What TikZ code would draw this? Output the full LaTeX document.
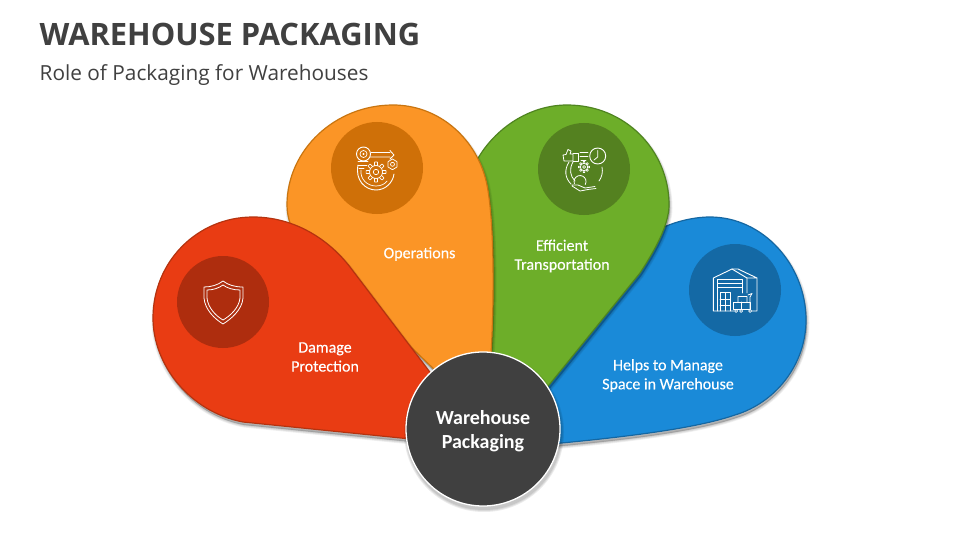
\documentclass[tikz,border=0pt]{standalone}
\usepackage{fontspec}
\setmainfont{Open Sans}
\newfontfamily\labfont[FakeBold=0.25]{Carlito}
\newfontfamily\hubfont{Carlito}
\definecolor{txtdark}{HTML}{404040}
\definecolor{redfill}{HTML}{E93C13}
\definecolor{rededge}{HTML}{B5330F}
\definecolor{reddisc}{HTML}{AE2D0E}
\definecolor{orafill}{HTML}{FB9526}
\definecolor{oraedge}{HTML}{C97510}
\definecolor{oradisc}{HTML}{CF7008}
\definecolor{grnfill}{HTML}{6DAE29}
\definecolor{grnedge}{HTML}{4F8420}
\definecolor{grndisc}{HTML}{548120}
\definecolor{blufill}{HTML}{1A8AD8}
\definecolor{bluedge}{HTML}{1567A2}
\definecolor{bludisc}{HTML}{1469A5}
\tikzset{
  lab/.style={font=\labfont\fontsize{16}{19}\selectfont,text=white,align=center,inner sep=0pt},
  ico/.style={draw=white,line width=0.9pt,line join=round,line cap=round},
  disc/.style={circle,minimum size=92pt,inner sep=0pt}
}
\newcommand{\softshadow}[1]{%
  \foreach \w in {5,3.5,2,0.5}{%
    \fill[black,opacity=0.06,draw=black,line width=\w pt,line join=round,shift={(1,3)}] #1;
  }%
}
\newcommand{\petal}[3]{%
  \softshadow{#1}
  \filldraw[fill=#2,draw=#3,line width=1.2pt,line join=round] #1;
}
\newcommand{\cog}[6]{% x y rout rin rhole teeth
  \foreach \i in {1,...,#6}{%
    \pgfmathsetmacro{\aa}{\i*360/#6}
    \draw[ico,line width=0.7pt,shift={(#1,#2)}] (\aa-14:#4) -- (\aa-8:#3) -- (\aa+8:#3) -- (\aa+14:#4);
  }
  \draw[ico,line width=0.7pt] (#1,#2) circle[radius=#4 pt];
  \draw[ico,line width=0.7pt] (#1,#2) circle[radius=#5 pt];
}
\begin{document}
\begin{tikzpicture}[x=1pt,y=-1pt]
\useasboundingbox (0,0) rectangle (960,540);
\fill[white] (0,0) rectangle (960,540);

\node[anchor=west,inner sep=0pt,text=txtdark,font=\bfseries\fontsize{30.85}{36}\selectfont] (title) at (39.5,34.5) {WAREHOUSE PACKAGING};
\node[anchor=west,inner sep=0pt,text=txtdark,font=\fontsize{20.8}{24}\selectfont] (subtitle) at (39.5,75) {Role of Packaging for Warehouses};

% petals, back to front
\petal{(650,235) .. controls (665,224) and (690,217) .. (710,217) .. controls (763,217) and (806,265) .. (806,320) .. controls (806,365) and (775,403) .. (735,415) .. controls (700,427) and (640,436) .. (540,445) -- (530,400) -- cycle}{blufill}{bluedge}
\petal{(480,375) -- (477,160) .. controls (495,128) and (530,105) .. (567,105) .. controls (625,105) and (669,150) .. (669,205) .. controls (669,225) and (655,250) .. (640,273) -- (545,390) -- cycle}{grnfill}{grnedge}
\petal{(287,205) .. controls (287,150) and (335,105) .. (393,105) .. controls (440,105) and (478,140) .. (487,185) .. controls (494,220) and (495,300) .. (490,370) -- (440,375) -- (300,240) .. controls (292,232) and (287,218) .. (287,205) -- cycle}{orafill}{oraedge}
\petal{(445,392) -- (350,267) .. controls (325,235) and (290,217) .. (253,217) .. controls (197,217) and (153,262) .. (153,318) .. controls (153,365) and (190,412) .. (243,422) -- (450,443) -- cycle}{redfill}{rededge}

% icon discs
\node[disc,fill=reddisc] (d1) at (223,302) {};
\node[disc,fill=oradisc] (d2) at (377,168) {};
\node[disc,fill=grndisc] (d3) at (584,169) {};
\node[disc,fill=bludisc] (d4) at (735,290) {};

% shield
\draw[ico,line width=0.8pt] (223,281) .. controls (218,285) and (211,287) .. (204,287) -- (204,298) .. controls (205,310) and (215,319) .. (223,324) .. controls (231,319) and (242,310) .. (243,298) -- (243,287) .. controls (235,287) and (228,285) .. (223,281) -- cycle;
\draw[ico,line width=0.8pt] (223,285) .. controls (219,288) and (213,290) .. (207,290) -- (207,298) .. controls (208,308) and (216,316) .. (223,320) .. controls (230,316) and (239,308) .. (240,298) -- (240,290) .. controls (233,290) and (227,288) .. (223,285) -- cycle;

% operations icon
\draw[ico] (363.5,154) circle[radius=7pt];
\draw[ico,line width=0.7pt] (363.5,154) circle[radius=3.5pt];
\fill[white] (363.5,154) circle[radius=1.2pt];
\draw[ico,line width=0.8pt] (371,152.5) -- (390,152.5) (370,157) -- (390,157) (390,150.5) -- (394,155) -- (390,159);
\draw[ico,line width=0.8pt] (358,161) -- (368,161) (358,165) -- (367,165) (359,168) -- (364,168);
\cog{376}{172}{10}{6.5}{2.7}{8}
\draw[ico,line width=0.7pt] (392.5,159) -- (397,161.7) -- (397,167) -- (392.5,169.7) -- (388,167) -- (388,161.7) -- cycle;
\draw[ico,line width=0.7pt] (392.5,164.3) circle[radius=2pt];
\draw[ico] (358,165) .. controls (355,180) and (365,190) .. (376,190) .. controls (386,190) and (393,182) .. (394,174);
\draw[ico,line width=0.7pt] (361,170) .. controls (360,179) and (367,186) .. (376,186) .. controls (381,186) and (385,184) .. (387,181);

% transportation icon
\draw[ico] (597.7,156) circle[radius=8pt];
\draw[ico,line width=0.8pt] (597.7,150.5) -- (597.7,157) -- (594,160);
\draw[ico,line width=0.8pt] (563,155) -- (566,154.5) -- (568,149.5) -- (571,151) -- (570,154) -- (573,154) -- (573,161) -- (564,161) -- cycle;
\draw[ico,line width=0.8pt] (573,153) -- (578,153) -- (578,161) -- (573,161);
\draw[ico,line width=0.8pt] (580,152.5) -- (588,152.5) (580,156) -- (588,156) (581,160.5) -- (586,160.5);
\cog{584}{167}{5.5}{3.7}{1.5}{8}
\draw[ico,line width=0.8pt] (569,162) .. controls (564,170) and (565,178) .. (571,184);
\draw[ico,line width=0.8pt] (573,162) .. controls (569,169) and (570,176) .. (575,181);
\draw[ico,line width=0.8pt] (602,167) .. controls (603,172) and (602,177) .. (599,181);
\draw[ico,line width=0.8pt] (574.4,183.6) arc[start angle=200,end angle=-30,radius=6pt];
\draw[ico,line width=0.8pt] (572,185) -- (578,185) -- (585,188) -- (595,186.5) (572,186) -- (580,191) -- (588,189.5) -- (596,188.5);

% warehouse icon
\draw[ico,line width=0.9pt] (734,311) -- (713.3,311) -- (713.3,278) -- (732,269) -- (747,278) -- (747,293);
\draw[ico,line width=0.9pt] (732,269) -- (738,269) -- (757,278) -- (757,311) -- (752,311) (747,278) -- (757,278);
\draw[ico,line width=0.9pt] (717.5,311) -- (717.5,279) -- (742.5,279) -- (742.5,293) (717.5,283) -- (742.5,283) (717.5,287.5) -- (742.5,287.5);
\draw[ico,line width=0.8pt] (720,311) -- (720,292.5) -- (730,292.5) -- (730,311) (725,292.5) -- (725,311) (720,299) -- (730,299) (720,305) -- (730,305);
\draw[ico,line width=0.8pt] (733,302) -- (750,302) -- (750,309) -- (733,309) -- cycle (741,302) -- (741,309);
\draw[ico,line width=0.8pt] (738,302) -- (738,296.5) -- (747,296.5) -- (747,302) (750,309) -- (750,297) -- (752,293.5) -- (748,295);
\draw[ico,line width=0.7pt] (736,311) circle[radius=1.5pt] (741,311) circle[radius=1.5pt] (750,311) circle[radius=1.5pt];

% labels
\node[lab] (l1) at (325,357) {Damage\\Protection};
\node[lab] (l2) at (419.5,254) {Operations};
\node[lab] (l3) at (562,256) {Efficient\\Transportation};
\node[lab] (l4) at (668,375.5) {Helps to Manage\\Space in Warehouse};

% centre
\foreach \w in {6,4,2}{\fill[black,opacity=0.08,shift={(1,3)}] (483,429) circle[radius=77pt+\w pt/2];}
\node[circle,minimum size=154pt,inner sep=0pt,fill=txtdark,draw=white,line width=1.3pt] (hub) at (483,429) {};
\node[inner sep=0pt,text=white,align=center,font=\hubfont\bfseries\fontsize{20}{24}\selectfont] (hubtext) at (483,431) {Warehouse\\Packaging};
\end{tikzpicture}
\end{document}
